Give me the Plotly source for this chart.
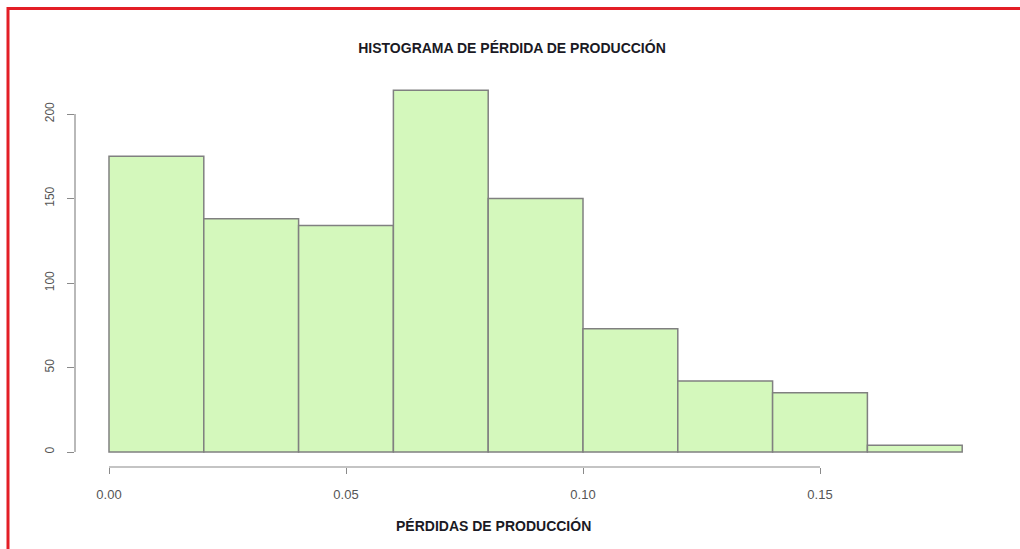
import plotly.graph_objects as go

# ---- data ----
bin_edges = [0.00, 0.02, 0.04, 0.06, 0.08, 0.10, 0.12, 0.14, 0.16, 0.18]
counts = [175, 138, 134, 214, 150, 73, 42, 35, 4]
x_ticks = [0.00, 0.05, 0.10, 0.15]
x_tick_labels = ["0.00", "0.05", "0.10", "0.15"]
y_ticks = [0, 50, 100, 150, 200]
y_tick_labels = ["0", "50", "100", "150", "200"]
title_text = "HISTOGRAMA DE PÉRDIDA DE PRODUCCIÓN"
x_title_text = "PÉRDIDAS DE PRODUCCIÓN"

# ---- layout geometry (pixels) ----
W, H = 1020, 549
L, R, T, B = 75, 40, 80, 82
pw, ph = W - L - R, H - T - B
x0_px, x_scale = 109, 4740.0        # px of x=0, px per unit
y0_px, y_scale = 452, 1.69          # px of y=0, px per unit
xr = [(L - x0_px) / x_scale, (W - R - x0_px) / x_scale]
yr = [(y0_px - (H - B)) / y_scale, (y0_px - T) / y_scale]

def px_to_paper_x(px):
    return (px - L) / pw

def px_to_paper_y(py):
    return (H - B - py) / ph

centers = [(a + b) / 2 for a, b in zip(bin_edges[:-1], bin_edges[1:])]
widths = [b - a for a, b in zip(bin_edges[:-1], bin_edges[1:])]

axis_col = "#8a8a8a"
fig = go.Figure(go.Bar(
    x=centers, y=counts, width=widths,
    marker=dict(color="#d4f8bc", line=dict(color="#808080", width=1.5)),
    hoverinfo="x+y",
))

shapes = [
    # R-style detached axis lines spanning first to last tick
    dict(type="line", xref="paper", yref="y", x0=0, x1=0,
         y0=y_ticks[0], y1=y_ticks[-1], line=dict(color=axis_col, width=1.2)),
    dict(type="line", xref="x", yref="paper", x0=x_ticks[0], x1=x_ticks[-1],
         y0=0, y1=0, line=dict(color=axis_col, width=1.2)),
    # red frame (top and left)
    dict(type="line", xref="paper", yref="paper",
         x0=px_to_paper_x(7), x1=px_to_paper_x(W), y0=px_to_paper_y(8.5), y1=px_to_paper_y(8.5),
         line=dict(color="#e31e26", width=3)),
    dict(type="line", xref="paper", yref="paper",
         x0=px_to_paper_x(8), x1=px_to_paper_x(8), y0=px_to_paper_y(7), y1=px_to_paper_y(H),
         line=dict(color="#e31e26", width=3)),
]

fig.update_layout(
    width=W, height=H,
    margin=dict(l=L, r=R, t=T, b=B),
    paper_bgcolor="white", plot_bgcolor="white",
    showlegend=False,
    shapes=shapes,
    font=dict(family="Liberation Sans, Arial, sans-serif"),
    title=dict(text="<b>" + title_text + "</b>", xref="container", yref="container",
               x=512 / W, y=1 - 48 / H, xanchor="center", yanchor="middle",
               font=dict(size=14, color="#1a1a24")),
    annotations=[dict(text="<b>" + x_title_text + "</b>", xref="paper", yref="paper",
                      x=px_to_paper_x(493), y=px_to_paper_y(525), xanchor="center",
                      yanchor="middle", showarrow=False,
                      font=dict(size=14, color="#1a1a24"))],
    xaxis=dict(range=xr, showgrid=False, zeroline=False, showline=False,
               tickmode="array", tickvals=x_ticks, ticktext=x_tick_labels,
               ticks="outside", ticklen=6, tickwidth=1.2, tickcolor=axis_col,
               tickfont=dict(size=13, color="#555555"), ticklabelstandoff=9),
    yaxis=dict(range=yr, showgrid=False, zeroline=False, showline=False,
               tickmode="array", tickvals=y_ticks, ticktext=y_tick_labels,
               ticks="outside", ticklen=7, tickwidth=1.2, tickcolor=axis_col,
               tickangle=-90, tickfont=dict(size=12, color="#555555"),
               ticklabelstandoff=8),
)

fig.write_html("out.html", config={"displayModeBar": False},
               post_script="document.body.style.margin='0';document.body.style.overflow='hidden';")
